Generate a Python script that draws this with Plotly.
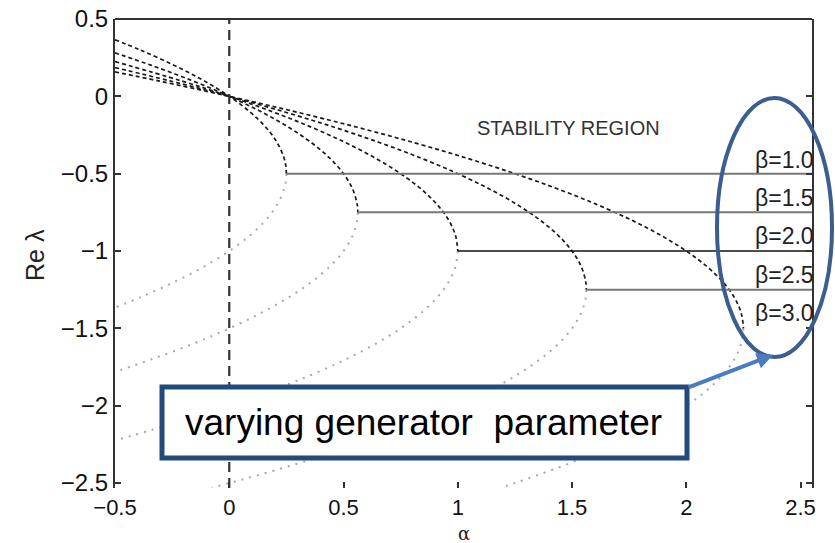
import plotly.graph_objects as go

# beta values and branch points (alpha = beta^2/4, Re = -beta/2)
beta_labels = ["β=1.0", "β=1.5", "β=2.0", "β=2.5", "β=3.0"]
branch_alpha = [0.25, 0.5625, 1.0, 1.5625, 2.25]
branch_re = [-0.5, -0.75, -1.0, -1.25, -1.5]
x_end = 2.55

# upper (dashed) branches
up_a_10 = [-0.5, -0.39, -0.24, -0.11, 0, 0.09, 0.16, 0.21, 0.24, 0.2475, 0.25]
up_r_10 = [0.366, 0.3, 0.2, 0.1, 0, -0.1, -0.2, -0.3, -0.4, -0.45, -0.5]
up_a_15 = [-0.5, -0.34, -0.16, 0, 0.14, 0.26, 0.36, 0.44, 0.5, 0.54, 0.56, 0.5625]
up_r_15 = [0.281, 0.2, 0.1, 0, -0.1, -0.2, -0.3, -0.4, -0.5, -0.6, -0.7, -0.75]
up_a_20 = [-0.5, -0.21, 0, 0.19, 0.36, 0.51, 0.64, 0.75, 0.84, 0.91, 0.96, 0.99, 1.0]
up_r_20 = [0.225, 0.1, 0, -0.1, -0.2, -0.3, -0.4, -0.5, -0.6, -0.7, -0.8, -0.9, -1.0]
up_a_25 = [-0.5, -0.26, 0, 0.24, 0.46, 0.66, 0.84, 1.0, 1.14, 1.26, 1.36, 1.44, 1.5, 1.54, 1.56, 1.5625]
up_r_25 = [0.186, 0.1, 0, -0.1, -0.2, -0.3, -0.4, -0.5, -0.6, -0.7, -0.8, -0.9, -1.0, -1.1, -1.2, -1.25]
up_a_30 = [-0.5, -0.31, 0, 0.29, 0.56, 0.81, 1.04, 1.25, 1.44, 1.61, 1.76, 1.89, 2.0, 2.09, 2.16, 2.21, 2.24, 2.25]
up_r_30 = [0.158, 0.1, 0, -0.1, -0.2, -0.3, -0.4, -0.5, -0.6, -0.7, -0.8, -0.9, -1.0, -1.1, -1.2, -1.3, -1.4, -1.5]

# lower (dotted) branches
lo_a_10 = [0.25, 0.2475, 0.24, 0.21, 0.16, 0.09, 0, -0.11, -0.24, -0.39, -0.5]
lo_r_10 = [-0.5, -0.55, -0.6, -0.7, -0.8, -0.9, -1.0, -1.1, -1.2, -1.3, -1.366]
lo_a_15 = [0.5625, 0.56, 0.54, 0.5, 0.44, 0.36, 0.26, 0.14, 0, -0.16, -0.34, -0.5]
lo_r_15 = [-0.75, -0.8, -0.9, -1.0, -1.1, -1.2, -1.3, -1.4, -1.5, -1.6, -1.7, -1.781]
lo_a_20 = [1.0, 0.99, 0.96, 0.91, 0.84, 0.75, 0.64, 0.51, 0.36, 0.19, 0, -0.21, -0.5]
lo_r_20 = [-1.0, -1.1, -1.2, -1.3, -1.4, -1.5, -1.6, -1.7, -1.8, -1.9, -2.0, -2.1, -2.225]
lo_a_25 = [1.5625, 1.56, 1.54, 1.5, 1.44, 1.36, 1.26, 1.14, 1.0, 0.84, 0.66, 0.46, 0.24, 0, -0.076]
lo_r_25 = [-1.25, -1.3, -1.4, -1.5, -1.6, -1.7, -1.8, -1.9, -2.0, -2.1, -2.2, -2.3, -2.4, -2.5, -2.53]
lo_a_30 = [2.25, 2.24, 2.21, 2.16, 2.09, 2.0, 1.89, 1.76, 1.61, 1.44, 1.25, 1.189]
lo_r_30 = [-1.5, -1.6, -1.7, -1.8, -1.9, -2.0, -2.1, -2.2, -2.3, -2.4, -2.5, -2.53]

uppers = [(up_a_10, up_r_10), (up_a_15, up_r_15), (up_a_20, up_r_20), (up_a_25, up_r_25), (up_a_30, up_r_30)]
lowers = [(lo_a_10, lo_r_10), (lo_a_15, lo_r_15), (lo_a_20, lo_r_20), (lo_a_25, lo_r_25), (lo_a_30, lo_r_30)]

FONT = "Liberation Sans, Arial, sans-serif"
fig = go.Figure()

for a, r in lowers:
    fig.add_trace(go.Scatter(x=a, y=r, mode="lines", line=dict(color="#a8a8a8", width=2, dash="2px,6px", shape="spline"),
                             showlegend=False, hoverinfo="skip"))
for a, r in uppers:
    fig.add_trace(go.Scatter(x=a, y=r, mode="lines", line=dict(color="#1a1a1a", width=1.7, dash="4px,3px", shape="spline"),
                             showlegend=False, hoverinfo="skip"))
hcolors = ["#777", "#777", "#111", "#777"]
for i in range(4):
    fig.add_trace(go.Scatter(x=[branch_alpha[i], x_end], y=[branch_re[i], branch_re[i]], mode="lines",
                             line=dict(color=hcolors[i], width=2 if i != 2 else 1.6),
                             showlegend=False, hoverinfo="skip"))

# pixel helpers for overlay positions
L, R, T, B = 115, 812, 19, 488
def px(x):
    return (x - L) / (R - L)
def py(y):
    return (B - y) / (B - T)

shapes = [
    dict(type="line", xref="x", yref="paper", x0=0, x1=0, y0=0, y1=1, line=dict(color="#333", width=2.2, dash="10px,6px")),
    dict(type="line", xref="paper", yref="paper", x0=0, x1=1, y0=1, y1=1, line=dict(color="#333", width=2)),
    dict(type="circle", xref="paper", yref="paper", x0=px(717), x1=px(832), y0=py(357), y1=py(98),
         line=dict(color="#3b5e8e", width=4)),
    dict(type="rect", xref="paper", yref="paper", x0=px(162), x1=px(687), y0=py(458), y1=py(387),
         line=dict(color="#234a7c", width=5), fillcolor="white"),
]

ann = [
    dict(text="STABILITY REGION", xref="paper", yref="paper", x=px(568), y=py(128), xanchor="center", yanchor="middle",
         showarrow=False, font=dict(family=FONT, size=20, color="#333")),
    dict(text="varying generator  parameter", xref="paper", yref="paper", x=px(423), y=py(422), xanchor="center",
         yanchor="middle", showarrow=False, font=dict(family=FONT, size=37, color="#000")),
    dict(text="", xref="paper", yref="paper", x=px(773), y=py(355), ax=-86, ay=33, showarrow=True,
         arrowhead=2, arrowsize=0.8, arrowwidth=4, arrowcolor="#4a7dbd"),
    dict(text="Re λ", xref="paper", yref="paper", x=px(35), y=py(255), xanchor="center", yanchor="middle",
         showarrow=False, textangle=-90, font=dict(family=FONT, size=25, color="#222")),
    dict(text="α", xref="paper", yref="paper", x=px(464), y=py(545), xanchor="center", yanchor="bottom",
         borderpad=0, showarrow=False, font=dict(family="DejaVu Serif, serif", size=18, color="#222")),
]
label_y = [160, 198, 236, 275, 313]
for t, yy in zip(beta_labels, label_y):
    ann.append(dict(text=t, xref="paper", yref="paper", x=px(816), y=py(yy), xanchor="right", yanchor="middle",
                    showarrow=False, font=dict(family=FONT, size=23, color="#222")))

fig.update_layout(
    width=835, height=543, margin=dict(l=L, r=835 - R, t=T, b=543 - B),
    paper_bgcolor="white", plot_bgcolor="white",
    shapes=shapes, annotations=ann, showlegend=False,
    xaxis=dict(range=[-0.5, x_end], tick0=-0.5, dtick=0.5, showgrid=False, zeroline=False, showline=False,
               ticks="inside", ticklen=6, tickcolor="#333", tickwidth=2, ticklabelstandoff=4, automargin=False,
               tickfont=dict(family=FONT, size=22, color="#111")),
    yaxis=dict(range=[-2.532, 0.5], tick0=-2.5, dtick=0.5, showgrid=False, zeroline=False, showline=True,
               linecolor="#333", linewidth=2, mirror="ticks", ticks="inside", ticklen=6, tickcolor="#333",
               tickwidth=2, automargin=False, tickfont=dict(family=FONT, size=24, color="#111")),
)
fig.write_html("out.html")
